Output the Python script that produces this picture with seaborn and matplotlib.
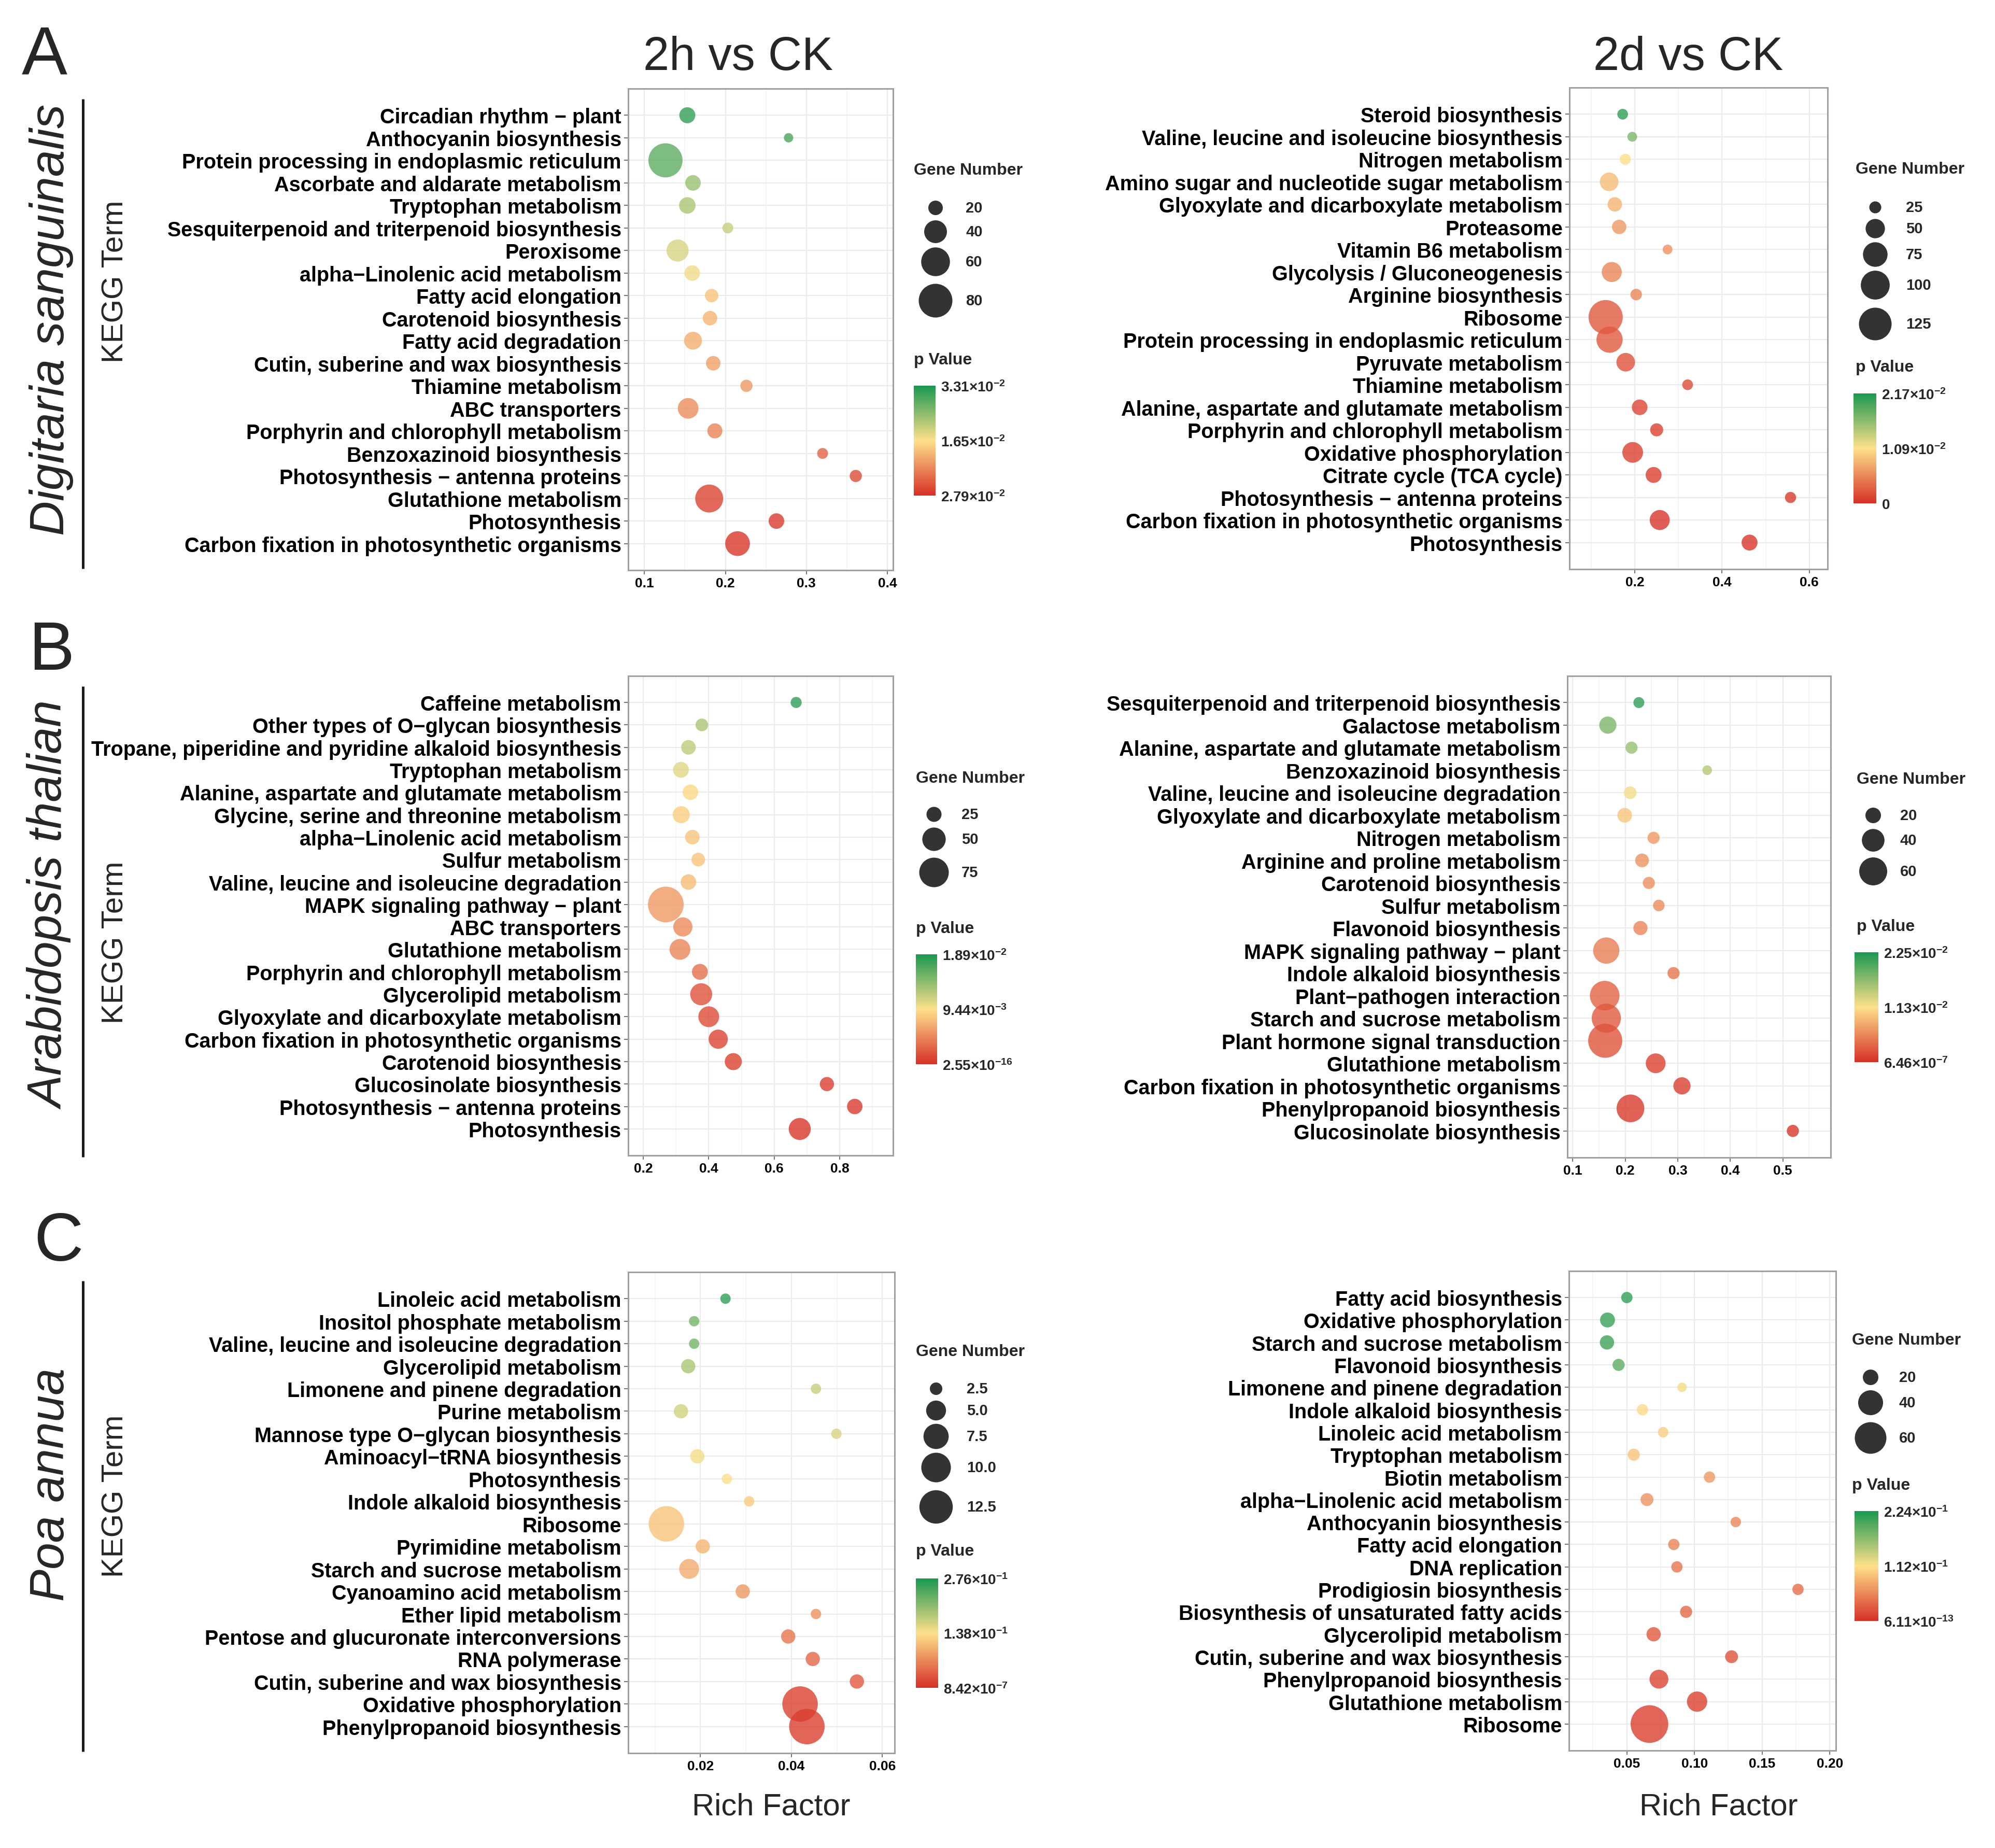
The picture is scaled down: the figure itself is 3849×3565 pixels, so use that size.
import numpy as np
import pandas as pd
import seaborn as sns
import matplotlib
matplotlib.use("Agg")
import matplotlib.pyplot as plt
from matplotlib.colors import LinearSegmentedColormap, Normalize
from matplotlib.cm import ScalarMappable
from matplotlib.ticker import FixedLocator, MultipleLocator, FormatStrFormatter

# ---- data: Digitaria sanguinalis, 2h vs CK ----
terms_a1 = ["Circadian rhythm − plant", "Anthocyanin biosynthesis",
            "Protein processing in endoplasmic reticulum", "Ascorbate and aldarate metabolism",
            "Tryptophan metabolism", "Sesquiterpenoid and triterpenoid biosynthesis",
            "Peroxisome", "alpha−Linolenic acid metabolism", "Fatty acid elongation",
            "Carotenoid biosynthesis", "Fatty acid degradation",
            "Cutin, suberine and wax biosynthesis", "Thiamine metabolism", "ABC transporters",
            "Porphyrin and chlorophyll metabolism", "Benzoxazinoid biosynthesis",
            "Photosynthesis − antenna proteins", "Glutathione metabolism", "Photosynthesis",
            "Carbon fixation in photosynthetic organisms"]
rich_a1 = [0.153, 0.278, 0.126, 0.160, 0.153, 0.203, 0.141, 0.159, 0.183, 0.181,
           0.160, 0.185, 0.226, 0.154, 0.187, 0.320, 0.361, 0.180, 0.263, 0.215]
genes_a1 = [23, 12, 82, 22, 24, 14, 38, 22, 18, 20, 27, 20, 16, 34, 21, 14, 16, 57, 22, 46]
pval_a1 = [0.0314, 0.0298, 0.0281, 0.0238, 0.0225, 0.0205, 0.0192, 0.0175, 0.0139, 0.0126,
           0.0119, 0.0106, 0.0099, 0.0089, 0.0079, 0.0050, 0.0026, 0.0017, 0.0010, 0.0007]

# ---- data: Digitaria sanguinalis, 2d vs CK ----
terms_a2 = ["Steroid biosynthesis", "Valine, leucine and isoleucine biosynthesis",
            "Nitrogen metabolism", "Amino sugar and nucleotide sugar metabolism",
            "Glyoxylate and dicarboxylate metabolism", "Proteasome", "Vitamin B6 metabolism",
            "Glycolysis / Gluconeogenesis", "Arginine biosynthesis", "Ribosome",
            "Protein processing in endoplasmic reticulum", "Pyruvate metabolism",
            "Thiamine metabolism", "Alanine, aspartate and glutamate metabolism",
            "Porphyrin and chlorophyll metabolism", "Oxidative phosphorylation",
            "Citrate cycle (TCA cycle)", "Photosynthesis − antenna proteins",
            "Carbon fixation in photosynthetic organisms", "Photosynthesis"]
rich_a2 = [0.172, 0.194, 0.178, 0.141, 0.154, 0.164, 0.275, 0.147, 0.203, 0.133,
           0.142, 0.179, 0.321, 0.211, 0.250, 0.195, 0.243, 0.557, 0.257, 0.463]
genes_a2 = [22, 20, 23, 47, 32, 32, 20, 53, 24, 136, 84, 47, 22, 36, 28, 56, 37, 23, 53, 37]
pval_a2 = [0.0206, 0.0169, 0.0109, 0.0087, 0.0082, 0.0065, 0.0061, 0.0054, 0.0054, 0.0026,
           0.0026, 0.0022, 0.0017, 0.0013, 0.0011, 0.0011, 0.0009, 0.0007, 0.0004, 0.0004]

# ---- data: Arabidopsis thalian, 2h vs CK ----
terms_b1 = ["Caffeine metabolism", "Other types of O−glycan biosynthesis",
            "Tropane, piperidine and pyridine alkaloid biosynthesis", "Tryptophan metabolism",
            "Alanine, aspartate and glutamate metabolism",
            "Glycine, serine and threonine metabolism", "alpha−Linolenic acid metabolism",
            "Sulfur metabolism", "Valine, leucine and isoleucine degradation",
            "MAPK signaling pathway − plant", "ABC transporters", "Glutathione metabolism",
            "Porphyrin and chlorophyll metabolism", "Glycerolipid metabolism",
            "Glyoxylate and dicarboxylate metabolism",
            "Carbon fixation in photosynthetic organisms", "Carotenoid biosynthesis",
            "Glucosinolate biosynthesis", "Photosynthesis − antenna proteins", "Photosynthesis"]
rich_b1 = [0.667, 0.379, 0.338, 0.315, 0.344, 0.316, 0.350, 0.368, 0.338, 0.269,
           0.321, 0.312, 0.373, 0.377, 0.400, 0.429, 0.475, 0.761, 0.846, 0.678]
genes_b1 = [17, 20, 24, 27, 26, 30, 24, 22, 26, 106, 36, 41, 27, 45, 41, 36, 30, 23, 26, 45]
pval_b1 = [0.0180, 0.0129, 0.0121, 0.0106, 0.0089, 0.0085, 0.0081, 0.0079, 0.0076, 0.0057,
           0.0049, 0.0047, 0.0034, 0.0019, 0.0015, 0.0011, 0.0009, 0.0008, 0.0006, 0.0004]

# ---- data: Arabidopsis thalian, 2d vs CK ----
terms_b2 = ["Sesquiterpenoid and triterpenoid biosynthesis", "Galactose metabolism",
            "Alanine, aspartate and glutamate metabolism", "Benzoxazinoid biosynthesis",
            "Valine, leucine and isoleucine degradation",
            "Glyoxylate and dicarboxylate metabolism", "Nitrogen metabolism",
            "Arginine and proline metabolism", "Carotenoid biosynthesis", "Sulfur metabolism",
            "Flavonoid biosynthesis", "MAPK signaling pathway − plant",
            "Indole alkaloid biosynthesis", "Plant−pathogen interaction",
            "Starch and sucrose metabolism", "Plant hormone signal transduction",
            "Glutathione metabolism", "Carbon fixation in photosynthetic organisms",
            "Phenylpropanoid biosynthesis", "Glucosinolate biosynthesis"]
rich_b2 = [0.226, 0.167, 0.212, 0.356, 0.2095, 0.199, 0.254, 0.232, 0.245, 0.264,
           0.229, 0.164, 0.292, 0.161, 0.164, 0.162, 0.258, 0.308, 0.210, 0.519]
genes_b2 = [11, 24, 13, 9, 14, 18, 13, 16, 13, 12, 17, 53, 13, 67, 65, 88, 31, 24, 59, 13]
pval_b2 = [0.0214, 0.0176, 0.0162, 0.0149, 0.0117, 0.0095, 0.0068, 0.0063, 0.0061, 0.0059,
           0.0056, 0.0050, 0.0045, 0.0034, 0.0027, 0.0023, 0.0011, 0.0009, 0.0007, 0.0005]

# ---- data: Poa annua, 2h vs CK ----
terms_c1 = ["Linoleic acid metabolism", "Inositol phosphate metabolism",
            "Valine, leucine and isoleucine degradation", "Glycerolipid metabolism",
            "Limonene and pinene degradation", "Purine metabolism",
            "Mannose type O−glycan biosynthesis", "Aminoacyl−tRNA biosynthesis",
            "Photosynthesis", "Indole alkaloid biosynthesis", "Ribosome",
            "Pyrimidine metabolism", "Starch and sucrose metabolism",
            "Cyanoamino acid metabolism", "Ether lipid metabolism",
            "Pentose and glucuronate interconversions", "RNA polymerase",
            "Cutin, suberine and wax biosynthesis", "Oxidative phosphorylation",
            "Phenylpropanoid biosynthesis"]
rich_c1 = [0.0255, 0.0186, 0.0186, 0.0173, 0.0454, 0.0157, 0.0499, 0.0193, 0.0258, 0.0307,
           0.0125, 0.0205, 0.0175, 0.0293, 0.0454, 0.0393, 0.0447, 0.0544, 0.0419, 0.0434]
genes_c1 = [2, 2, 2, 3, 2, 3, 2, 3, 2, 2, 14, 3, 5, 3, 2, 3, 3, 3, 14, 14]
pval_c1 = [0.262, 0.221, 0.221, 0.188, 0.171, 0.166, 0.160, 0.144, 0.138, 0.121,
           0.116, 0.105, 0.097, 0.083, 0.077, 0.055, 0.044, 0.033, 0.014, 0.011]

# ---- data: Poa annua, 2d vs CK ----
terms_c2 = ["Fatty acid biosynthesis", "Oxidative phosphorylation",
            "Starch and sucrose metabolism", "Flavonoid biosynthesis",
            "Limonene and pinene degradation", "Indole alkaloid biosynthesis",
            "Linoleic acid metabolism", "Tryptophan metabolism", "Biotin metabolism",
            "alpha−Linolenic acid metabolism", "Anthocyanin biosynthesis",
            "Fatty acid elongation", "DNA replication", "Prodigiosin biosynthesis",
            "Biosynthesis of unsaturated fatty acids", "Glycerolipid metabolism",
            "Cutin, suberine and wax biosynthesis", "Phenylpropanoid biosynthesis",
            "Glutathione metabolism", "Ribosome"]
rich_c2 = [0.0500, 0.0357, 0.0353, 0.0439, 0.0908, 0.0616, 0.0768, 0.0551, 0.1111, 0.0649,
           0.1305, 0.0847, 0.0870, 0.1765, 0.0938, 0.0698, 0.1274, 0.0737, 0.1019, 0.0667]
genes_c2 = [14, 19, 18, 15, 12, 14, 13, 15, 14, 16, 13, 14, 14, 14, 15, 18, 16, 26, 29, 82]
pval_c2 = [0.213, 0.208, 0.206, 0.190, 0.116, 0.108, 0.101, 0.094, 0.067, 0.063,
           0.056, 0.054, 0.045, 0.040, 0.036, 0.027, 0.022, 0.013, 0.011, 0.009]

pmax_list = [0.0331, 0.0217, 0.0189, 0.0225, 0.276, 0.224]
cbar_labels = [
    [r"$\mathbf{2.79{\times}10^{-2}}$", r"$\mathbf{1.65{\times}10^{-2}}$", r"$\mathbf{3.31{\times}10^{-2}}$"],
    [r"$\mathbf{0}$", r"$\mathbf{1.09{\times}10^{-2}}$", r"$\mathbf{2.17{\times}10^{-2}}$"],
    [r"$\mathbf{2.55{\times}10^{-16}}$", r"$\mathbf{9.44{\times}10^{-3}}$", r"$\mathbf{1.89{\times}10^{-2}}$"],
    [r"$\mathbf{6.46{\times}10^{-7}}$", r"$\mathbf{1.13{\times}10^{-2}}$", r"$\mathbf{2.25{\times}10^{-2}}$"],
    [r"$\mathbf{8.42{\times}10^{-7}}$", r"$\mathbf{1.38{\times}10^{-1}}$", r"$\mathbf{2.76{\times}10^{-1}}$"],
    [r"$\mathbf{6.11{\times}10^{-13}}$", r"$\mathbf{1.12{\times}10^{-1}}$", r"$\mathbf{2.24{\times}10^{-1}}$"],
]
size_levels = [[20, 40, 60, 80], [25, 50, 75, 100, 125], [25, 50, 75], [20, 40, 60],
               [2.5, 5.0, 7.5, 10.0, 12.5], [20, 40, 60]]
size_level_labels = [["20", "40", "60", "80"], ["25", "50", "75", "100", "125"],
                     ["25", "50", "75"], ["20", "40", "60"],
                     ["2.5", "5.0", "7.5", "10.0", "12.5"], ["20", "40", "60"]]
species = ["Digitaria sanguinalis", "Arabidopsis thalian", "Poa annua"]
columns = ["2h vs CK", "2d vs CK"]

# ---- style ----
sns.set_style("white")
plt.rcParams["font.family"] = ["Liberation Sans", "DejaVu Sans"]
plt.rcParams["mathtext.fontset"] = "custom"
plt.rcParams["mathtext.bf"] = "Liberation Sans:bold"
plt.rcParams["mathtext.rm"] = "Liberation Sans"

W, H = 3849, 3566
cmap = LinearSegmentedColormap.from_list("pv", ["#d73027", "#fee08b", "#1a9850"])

# layout (figure pixels)
layout = [
    dict(box=(1212, 172, 1723, 1101), xlim=(0.08, 0.407), xt=[0.1, 0.2, 0.3, 0.4], fmt="%.1f",
         cal=((20, 28), (80, 65)), lt=(1763, 329), cx=1805, lx=1863,
         ly=[402, 448, 506, 581], pt=695, cb=(1763, 745, 1805, 957)),
    dict(box=(3028, 170, 3526, 1099), xlim=(0.05, 0.642), xt=[0.2, 0.4, 0.6], fmt="%.1f",
         cal=((25, 23), (125, 63)), lt=(3580, 327), cx=3618, lx=3677,
         ly=[401, 442, 492, 551, 626], pt=709, cb=(3576, 760, 3620, 972)),
    dict(box=(1212, 1305, 1723, 2230), xlim=(0.154, 0.963), xt=[0.2, 0.4, 0.6, 0.8], fmt="%.1f",
         cal=((25, 29), (75, 57)), lt=(1767, 1502), cx=1802, lx=1855,
         ly=[1572, 1620, 1684], pt=1792, cb=(1767, 1842, 1808, 2054)),
    dict(box=(3024, 1305, 3532, 2234), xlim=(0.09, 0.591), xt=[0.1, 0.2, 0.3, 0.4, 0.5], fmt="%.1f",
         cal=((20, 30), (60, 54)), lt=(3582, 1504), cx=3614, lx=3666,
         ly=[1574, 1622, 1682], pt=1788, cb=(3578, 1838, 3624, 2050)),
    dict(box=(1212, 2455, 1726, 3383), xlim=(0.0041, 0.0627), xt=[0.02, 0.04, 0.06], fmt="%.2f",
         cal=((2, 20), (14, 68.5)), lt=(1767, 2608), cx=1806, lx=1865,
         ly=[2680, 2722, 2772, 2832, 2908], pt=2993, cb=(1767, 3046, 1810, 3257)),
    dict(box=(3027, 2453, 3542, 3378), xlim=(0.0072, 0.2045), xt=[0.05, 0.10, 0.15, 0.20], fmt="%.2f",
         cal=((20, 30), (60, 61)), lt=(3573, 2586), cx=3609, lx=3664,
         ly=[2658, 2707, 2775], pt=2866, cb=(3578, 2916, 3624, 3128)),
]

data = [
    (terms_a1, rich_a1, genes_a1, pval_a1),
    (terms_a2, rich_a2, genes_a2, pval_a2),
    (terms_b1, rich_b1, genes_b1, pval_b1),
    (terms_b2, rich_b2, genes_b2, pval_b2),
    (terms_c1, rich_c1, genes_c1, pval_c1),
    (terms_c2, rich_c2, genes_c2, pval_c2),
]


def frac(l, t, r, b):
    return [l / W, 1 - b / H, (r - l) / W, (b - t) / H]


def area(d_px):
    return (d_px * 0.72) ** 2


fig = plt.figure(figsize=(W / 100, H / 100), dpi=100)
ov = fig.add_axes([0, 0, 1, 1], zorder=10)
ov.set_xlim(0, W)
ov.set_ylim(H, 0)
ov.axis("off")

for i, (terms, rich, genes, pval) in enumerate(data):
    cfg = layout[i]
    ax = fig.add_axes(frac(*cfg["box"]))
    df = pd.DataFrame({"term": terms, "rich": rich, "genes": genes, "pval": pval})

    # linear area scale through two calibration points (value, diameter px)
    (v1, d1), (v2, d2) = cfg["cal"]
    a1, a2 = area(d1), area(d2)

    def size_of(v):
        return a1 + (v - v1) / (v2 - v1) * (a2 - a1)

    nlo = min(min(genes), min(size_levels[i]))
    nhi = max(max(genes), max(size_levels[i]))
    norm = Normalize(0, pmax_list[i])
    sns.scatterplot(data=df, x="rich", y="term", hue="pval", palette=cmap, hue_norm=norm,
                    size="genes", sizes=(size_of(nlo), size_of(nhi)), size_norm=(nlo, nhi),
                    alpha=0.8, linewidth=0, legend=False, ax=ax, zorder=3)
    n = len(terms)
    ax.set_ylim(n - 1 + 1.18, -1.18)
    ax.set_xlim(*cfg["xlim"])
    ax.xaxis.set_major_locator(FixedLocator(cfg["xt"]))
    step = cfg["xt"][1] - cfg["xt"][0]
    ax.xaxis.set_minor_locator(MultipleLocator(step / 2))
    ax.xaxis.set_major_formatter(FormatStrFormatter(cfg["fmt"]))
    ax.set_axisbelow(True)
    ax.grid(True, which="major", color="#ebebeb", lw=1.6)
    ax.grid(True, which="minor", axis="x", color="#f3f3f3", lw=1.1)
    for sp in ax.spines.values():
        sp.set_visible(True)
        sp.set_color("#a0a0a0")
        sp.set_linewidth(2.2)
    ax.tick_params(axis="both", which="major", length=5.5, width=1.5, color="#777777", pad=4,
                   bottom=True, left=True)
    ax.tick_params(axis="x", which="minor", length=0)
    ax.tick_params(axis="y", labelsize=28.5)
    ax.tick_params(axis="x", labelsize=19)
    for lab in ax.get_yticklabels() + ax.get_xticklabels():
        lab.set_fontweight("bold")
        lab.set_color("black")
    ax.set_xlabel("")
    ax.set_ylabel("")

    # size legend (ggplot style)
    tx, ty = cfg["lt"]
    ov.text(tx, ty, "Gene Number", fontsize=23, fontweight="bold", va="center", ha="left")
    lv = size_levels[i]
    ov.scatter([cfg["cx"]] * len(lv), cfg["ly"], s=[size_of(v) for v in lv],
               color="#333333", linewidth=0)
    for y, lab in zip(cfg["ly"], size_level_labels[i]):
        ov.text(cfg["lx"], y, lab, fontsize=21, fontweight="bold", va="center", ha="left")

    # p value colorbar
    ov.text(tx, cfg["pt"], "p Value", fontsize=23, fontweight="bold", va="center", ha="left")
    cax = fig.add_axes(frac(*cfg["cb"]))
    cb = fig.colorbar(ScalarMappable(norm=norm, cmap=cmap), cax=cax,
                      ticks=[0, pmax_list[i] / 2, pmax_list[i]])
    cb.outline.set_visible(False)
    cb.ax.set_yticklabels(cbar_labels[i], fontsize=20)
    cb.ax.tick_params(length=7, width=1.5, color="white", direction="in", pad=7)

# column titles
ov.text(1424, 111, columns[0], fontsize=65, ha="center", va="center")
ov.text(3257, 111, columns[1], fontsize=65, ha="center", va="center")

# panel letters, species, KEGG Term, separators
for letter, (lx, ly) in zip("ABC", [(86, 109), (99, 1258), (113, 2398)]):
    ov.text(lx, ly, letter, fontsize=95, ha="center", va="center")
for sp_name, yc, kegg_y, (y0, y1) in zip(species, [617, 1747, 2864], [543, 1818, 2886],
                                           [(192, 1098), (1325, 2233), (2472, 3380)]):
    ov.text(99, yc, sp_name, fontsize=67, style="italic", rotation=90, ha="center", va="center")
    ov.text(222, kegg_y, "KEGG Term", fontsize=42, rotation=90, ha="center", va="center")
    ov.plot([160, 160], [y0, y1], color="#1a1a1a", lw=3.6, solid_capstyle="butt")

ov.text(1488, 3486, "Rich Factor", fontsize=43, ha="center", va="center")
ov.text(3316, 3486, "Rich Factor", fontsize=43, ha="center", va="center")

fig.savefig("out.png", dpi=100)
